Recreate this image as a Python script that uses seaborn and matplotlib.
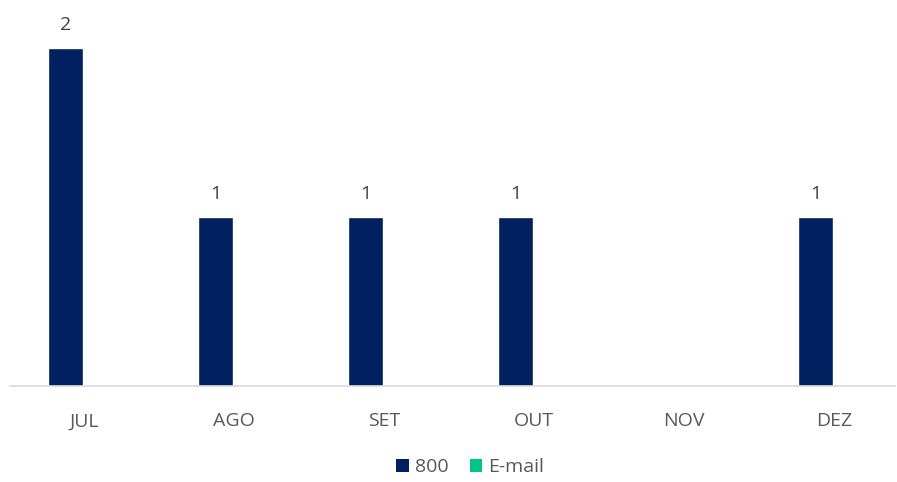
import matplotlib
matplotlib.use("Agg")
import matplotlib.pyplot as plt
import seaborn as sns
import pandas as pd
from matplotlib.patches import Patch

months = ["JUL", "AGO", "SET", "OUT", "NOV", "DEZ"]
series_names = ["800", "E-mail"]
vals_800 = [2, 1, 1, 1, 0, 1]
vals_email = [0, 0, 0, 0, 0, 0]
colors = ["#002060", "#00C389"]

df = pd.DataFrame({
    "mes": months * 2,
    "canal": [series_names[0]] * len(months) + [series_names[1]] * len(months),
    "valor": vals_800 + vals_email,
})

sns.set_theme(style="white")
plt.rcParams["font.family"] = ["Open Sans", "DejaVu Sans"]

fig = plt.figure(figsize=(8.97, 4.82), dpi=100)
ax = fig.add_axes([10 / 897, 1 - 386 / 482, 885 / 897, (386 - 14) / 482])

sns.barplot(data=df, x="mes", y="valor", hue="canal", order=months,
            hue_order=series_names, palette=colors, width=0.5, gap=0.06,
            ax=ax, legend=False, saturation=1)

ax.set_xlim(-74 / 150, (895 - 84) / 150)
ax.set_ylim(0, 372 / 169)

for c in ax.containers[:1]:
    labels = [str(int(v)) if v > 0 else "" for v in c.datavalues]
    ax.bar_label(c, labels=labels, padding=10, fontsize=14, color="#404040")

for s in ["top", "right", "left"]:
    ax.spines[s].set_visible(False)
ax.spines["bottom"].set_color("#D9D9D9")
ax.spines["bottom"].set_linewidth(1.2)
ax.set_yticks([])
ax.set_xlabel("")
ax.set_ylabel("")
ax.tick_params(axis="x", length=0, pad=19, labelsize=14, labelcolor="#595959")

handles = [Patch(facecolor=colors[i], edgecolor="none", label=series_names[i]) for i in range(2)]
fig.legend(handles=handles, loc="center", bbox_to_anchor=(470 / 897, 1 - 467 / 482),
           ncol=2, frameon=False, fontsize=14, labelcolor="#595959",
           handlelength=0.65, handleheight=0.65, handletextpad=0.3, columnspacing=1.1)

fig.savefig("out.png", dpi=100)
